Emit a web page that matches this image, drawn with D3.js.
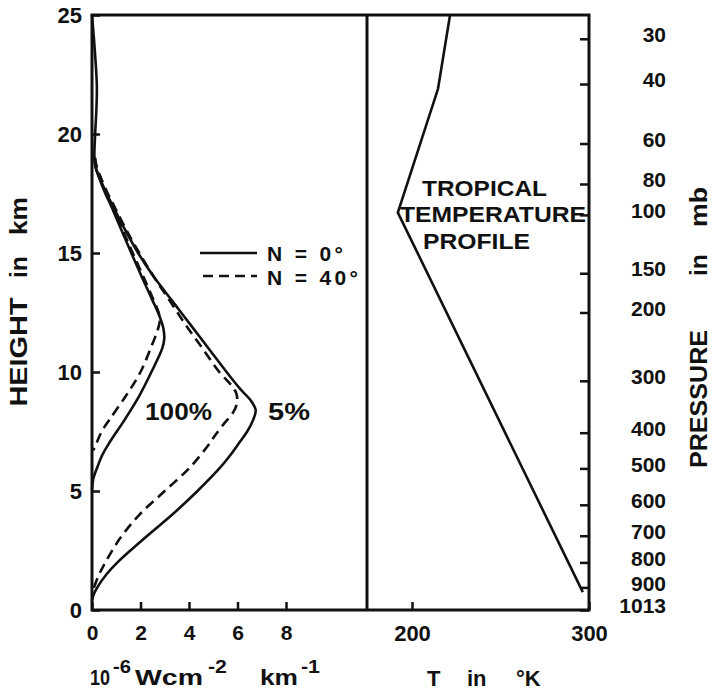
<!DOCTYPE html>
<html><head><meta charset="utf-8">
<script src="https://cdn.jsdelivr.net/npm/d3@7"></script>
<style>
body{margin:0;background:#fff}
svg{display:block}
text{font-family:"Liberation Sans",Arial,sans-serif;font-weight:bold;fill:#111}
</style>
</head><body>
<svg id="c" width="714" height="691"></svg>
<script>
// ---------- data ----------
const heightTicks = [0, 5, 10, 15, 20, 25];
const fluxTicks = [0, 2, 4, 6, 8];
const tempTicks = [200, 300];
const pressureLabels = [30, 40, 60, 80, 100, 150, 200, 300, 400, 500, 600, 700, 800, 900, 1013];
const pressureHeights = [24.0, 22.1, 19.6, 17.9, 16.6, 14.15, 12.5, 9.63, 7.45, 5.95, 4.42, 3.12, 2.0, 0.95, 0];

// [height km, flux 10^-6 W cm^-2 km^-1]
const solid5 = [[25,0],[24,0.08],[23,0.15],[22,0.2],[21,0.18],[20,0.13],[19,0.1],[18.6,0.15],[18.2,0.3],[17.5,0.6],[17,0.85],[16,1.35],[15,1.9],[14,2.55],[13,3.3],[12,4.05],[11,4.8],[10,5.55],[9.3,6.1],[8.8,6.55],[8.4,6.75],[8.0,6.65],[7.5,6.4],[7,6.05],[6.5,5.7],[6,5.3],[5,4.35],[4,3.3],[3,2.15],[2,1.05],[1.5,0.6],[1,0.25],[0.6,0.05],[0.4,0]];
const dashed5 = [[19,0.12],[18.6,0.2],[18.2,0.35],[17.5,0.65],[17,0.9],[16,1.4],[15,1.95],[14,2.55],[13,3.2],[12,3.85],[11,4.55],[10,5.25],[9.5,5.7],[9.1,5.95],[8.7,5.98],[8.3,5.82],[7.8,5.42],[7.3,5.05],[7,4.85],[6,4.05],[5,3.0],[4,1.95],[3,1.15],[2,0.55],[1.4,0.25],[0.85,0.05]];
const solid100 = [[19,0.1],[18.6,0.15],[18.2,0.28],[17.5,0.55],[17,0.78],[16,1.2],[15,1.62],[14,2.05],[13,2.5],[12.3,2.8],[11.8,2.95],[11.4,2.98],[11,2.9],[10,2.45],[9,1.95],[8,1.35],[7,0.7],[6.5,0.42],[6,0.22],[5.5,0.05],[5.05,0]];
const dashed100 = [[19,0.12],[18.6,0.18],[18.2,0.3],[17.5,0.58],[17,0.82],[16,1.25],[15,1.68],[14,2.12],[13,2.55],[12.5,2.75],[12.2,2.8],[11.8,2.72],[11,2.42],[10,2.0],[9,1.4],[8,0.72],[7.5,0.4],[7,0.18],[6.7,0.05]];

// [height km, temperature K]
const tempProfile = [[25,221.5],[21.9,214.7],[16.7,192],[0.75,296.5]];

// ---------- layout ----------
const svg = d3.select("#c");
const X0 = 92, XM = 367, X1 = 589, Y0 = 610, Y1 = 15;
const x = d3.scaleLinear().domain([0, 8]).range([X0, 286]);
const y = d3.scaleLinear().domain([0, 25]).range([Y0, Y1]);
const t = d3.scaleLinear().domain([200, 300]).range([412, X1]);
const p = d3.scaleLinear().domain(pressureLabels).range(pressureHeights.map(h => y(h)));

const ink = "#111";

// frame
svg.append("path")
  .attr("d", `M${X0},${Y1}H${X1}V${Y0}H${X0}Z M${XM},${Y1}V${Y0}`)
  .attr("fill", "none").attr("stroke", ink).attr("stroke-width", 3);

// left axis
const ga = svg.append("g").attr("transform", `translate(${X0},0)`)
  .call(d3.axisLeft(y).tickValues(heightTicks).tickSizeInner(-8).tickSizeOuter(0).tickPadding(10));
ga.select(".domain").remove();
ga.selectAll("line").attr("stroke", ink).attr("stroke-width", 2.5);
ga.selectAll("text").style("font-size", "22px").attr("fill", ink);

// bottom flux axis
const gb = svg.append("g").attr("transform", `translate(0,${Y0})`)
  .call(d3.axisBottom(x).tickValues(fluxTicks).tickSizeInner(-8).tickSizeOuter(0).tickPadding(15));
gb.select(".domain").remove();
gb.selectAll("line").attr("stroke", ink).attr("stroke-width", 2.5);
gb.selectAll("text").style("font-size", "21px").attr("fill", ink);

// bottom temperature axis
const gt = svg.append("g").attr("transform", `translate(0,${Y0})`)
  .call(d3.axisBottom(t).tickValues(tempTicks).tickSizeInner(-8).tickSizeOuter(0).tickPadding(15));
gt.select(".domain").remove();
gt.selectAll("line").attr("stroke", ink).attr("stroke-width", 2.5);
gt.selectAll("text").style("font-size", "22px").attr("fill", ink);

// right pressure axis
const gp = svg.append("g").attr("transform", `translate(${X1},0)`)
  .call(d3.axisRight(p).tickValues(pressureLabels).tickFormat(d3.format("d")).tickSizeInner(-9).tickSizeOuter(0).tickPadding(10));
gp.select(".domain").remove();
gp.selectAll("line").attr("stroke", ink).attr("stroke-width", 2.5);
gp.selectAll("text").style("font-size", "21px").attr("fill", ink)
  .attr("text-anchor", "end").attr("x", 77).attr("dy", "0.32em")
  .attr("transform", "translate(0,-4)");

// curves
const line = d3.line().x(d => x(d[1])).y(d => y(d[0])).curve(d3.curveCatmullRom.alpha(0.5));
const series = [
  {data: solid5, dash: null},
  {data: dashed5, dash: "10,6"},
  {data: solid100, dash: null},
  {data: dashed100, dash: "10,6"}
];
svg.append("g").selectAll("path").data(series).join("path")
  .attr("d", d => line(d.data))
  .attr("fill", "none").attr("stroke", ink).attr("stroke-width", 2.6)
  .attr("stroke-dasharray", d => d.dash);

// temperature profile
const tline = d3.line().x(d => t(d[1])).y(d => y(d[0]));
svg.append("path").attr("d", tline(tempProfile))
  .attr("fill", "none").attr("stroke", ink).attr("stroke-width", 2.6).attr("stroke-linejoin", "miter");

// legend
svg.append("line").attr("x1", 200).attr("x2", 257).attr("y1", 253).attr("y2", 253)
  .attr("stroke", ink).attr("stroke-width", 2.6);
svg.append("line").attr("x1", 203).attr("x2", 257).attr("y1", 276).attr("y2", 276)
  .attr("stroke", ink).attr("stroke-width", 2.6).attr("stroke-dasharray", "10,6");
svg.append("text").attr("x", 267).attr("y", 261).style("font-size", "21px")
  .attr("textLength", 76).attr("lengthAdjust", "spacing").text("N = 0°");
svg.append("text").attr("x", 267).attr("y", 285).style("font-size", "21px")
  .attr("textLength", 91).attr("lengthAdjust", "spacing").text("N = 40°");

// curve labels
svg.append("text").attr("x", 145).attr("y", 420).style("font-size", "23px")
  .attr("textLength", 67).attr("lengthAdjust", "spacingAndGlyphs").text("100%");
svg.append("text").attr("x", 268).attr("y", 420).style("font-size", "23px")
  .attr("textLength", 42).attr("lengthAdjust", "spacingAndGlyphs").text("5%");

// profile label
[["TROPICAL", 422, 196, 125], ["TEMPERATURE", 400, 222, 186], ["PROFILE", 423, 249, 107]].forEach(([s, xx, yy, w]) => {
  svg.append("text").attr("x", xx).attr("y", yy).style("font-size", "22px")
    .attr("textLength", w).attr("lengthAdjust", "spacingAndGlyphs").text(s);
});

// axis titles
const hg = svg.append("g").attr("transform", "translate(27,0) rotate(-90)");
[["HEIGHT", 352, 109], ["in", 267, 22], ["km", 216, 38]].forEach(([s, c, w]) => {
  hg.append("text").attr("x", -c).attr("y", 0).attr("text-anchor", "middle").style("font-size", "23px")
    .attr("textLength", w).attr("lengthAdjust", "spacingAndGlyphs").text(s);
});
const pg = svg.append("g").attr("transform", "translate(707,0) rotate(-90)");
[["PRESSURE", 399, 138], ["in", 265, 22], ["mb", 207, 40]].forEach(([s, c, w]) => {
  pg.append("text").attr("x", -c).attr("y", 0).attr("text-anchor", "middle").style("font-size", "23px")
    .attr("textLength", w).attr("lengthAdjust", "spacingAndGlyphs").text(s);
});

// bottom titles
const base = 685;
[["10", 90, 0, 22, 20], ["-6", 113, -12, 19, 18], ["Wcm", 135, 0, 22, 68], ["-2", 208, -12, 19, 19], ["km", 260, 0, 22, 38], ["-1", 301, -12, 19, 19]].forEach(([s, xx, dy, fs, w]) => {
  svg.append("text").attr("x", xx).attr("y", base + dy).style("font-size", fs + "px")
    .attr("textLength", w).attr("lengthAdjust", "spacingAndGlyphs").text(s);
});
[["T", 427], ["in", 467], ["°K", 516]].forEach(([s, xx]) => {
  svg.append("text").attr("x", xx).attr("y", base + 1).style("font-size", "22px").text(s);
});
</script>
</body></html>
